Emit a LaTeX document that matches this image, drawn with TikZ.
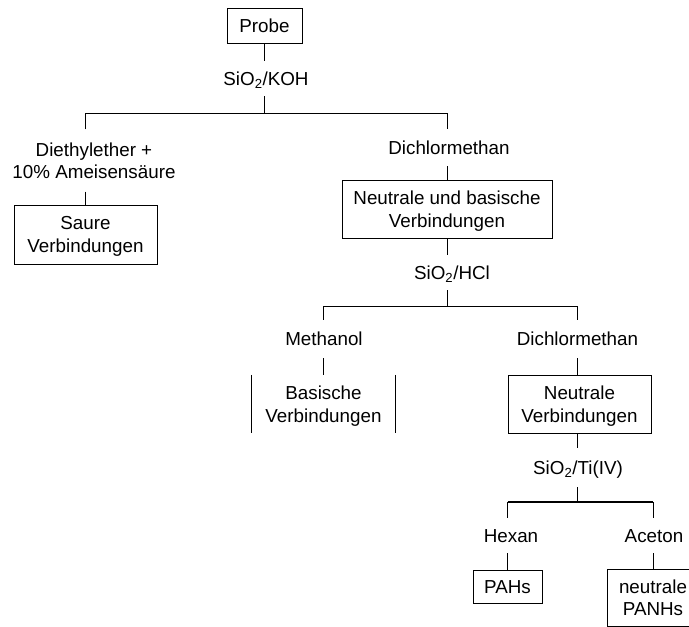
\documentclass[tikz,border=0pt]{standalone}
\usepackage{fontspec}
\setmainfont{Liberation Sans}
\begin{document}
\begin{tikzpicture}[x=1pt,y=-1pt,
  every node/.style={font=\fontsize{18.8}{22.5}\selectfont, inner sep=0pt, align=center},
  lab/.style={text height=13.5pt, text depth=0pt},
  labtwo/.style={text depth=0pt},
  box/.style={draw, line width=1pt, text depth=0pt},
  conn/.style={line width=0.8pt},
  thickconn/.style={line width=1.8pt}]
\useasboundingbox (0,0) rectangle (689,627);
\clip (0,0) rectangle (689,627);
\fill[white] (0,0) rectangle (689,627);

% level 0
\node[box, minimum width=75pt, minimum height=35pt, lab] (probe) at (264.5,25.5) {Probe};
\node[lab, minimum height=35pt] (koh) at (266,78.5) {SiO\textsubscript{2}/KOH};

% level 1
\node[labtwo, minimum height=62pt] (diet) at (94,160.5) {Diethylether +\\10\% Ameisensäure};
\node[lab, minimum height=37pt] (dcm1) at (449,147.5) {Dichlormethan};
\node[box, minimum width=143pt, minimum height=59pt] (saure) at (85.5,234.5) {Saure\\Verbindungen};
\node[box, minimum width=210pt, minimum height=58pt] (nub) at (447,209) {Neutrale und basische\\Verbindungen};
\coordinate (j1) at (264.5,113);

\draw[conn] (probe.south) -- (probe.south |- koh.north);
\draw[conn] (probe.south |- koh.south) -- (j1);
\draw[conn] (saure.north |- diet.north) -- (saure.north |- j1) -- (nub.north |- j1) -- (nub.north |- dcm1.north);
\draw[conn] (saure.north |- diet.south) -- (saure.north);
\draw[conn] (nub.north |- dcm1.south) -- (nub.north);

% level 2
\node[lab, minimum height=35pt] (hcl) at (452,272.5) {SiO\textsubscript{2}/HCl};
\node[lab, minimum height=38pt] (meth) at (324,339) {Methanol};
\node[lab, minimum height=38pt] (dcm2) at (577.5,339) {Dichlormethan};
\node[labtwo, minimum width=143pt, minimum height=58pt] (bas) at (323.5,404) {Basische\\Verbindungen};
\node[box, minimum width=143pt, minimum height=58pt] (nv) at (579.5,404) {Neutrale\\Verbindungen};
\coordinate (j2) at (447,306);

\draw[conn] (nub.south) -- (nub.south |- hcl.north);
\draw[conn] (nub.south |- hcl.south) -- (j2);
\draw[conn] (bas.north |- meth.north) -- (bas.north |- j2) -- (577,306) -- (577,320);
\draw[conn] (bas.north |- meth.south) -- (bas.north);
\draw[conn] (577,358) -- (577,375);
\draw[line width=1pt] (bas.north west) -- (bas.south west);
\draw[line width=1pt] (bas.north east) -- (bas.south east);

% level 3
\node[lab, minimum height=39pt] (ti) at (578,467.5) {SiO\textsubscript{2}/Ti(IV)};
\node[lab, minimum height=35pt] (hex) at (511,535.5) {Hexan};
\node[lab, minimum height=35pt] (ace) at (654,535.5) {Aceton};
\node[box, minimum width=69pt, minimum height=33pt, lab] (pahs) at (507.5,586.5) {PAHs};
\node[box, minimum width=92pt, minimum height=57pt] (pan) at (653,597.5) {neutrale\\PANHs};
\coordinate (j3) at (577,502);

\draw[conn] (577,433) -- (577,448);
\draw[conn] (ti.south -| j3) -- (j3);
\draw[thickconn] (pahs.north |- j3) -- (pan.north |- j3);
\draw[conn] (pahs.north |- j3) -- (pahs.north |- hex.north);
\draw[conn] (pan.north |- j3) -- (pan.north |- ace.north);
\draw[conn] (pahs.north |- hex.south) -- (pahs.north);
\draw[conn] (pan.north |- ace.south) -- (pan.north);
\end{tikzpicture}
\end{document}
